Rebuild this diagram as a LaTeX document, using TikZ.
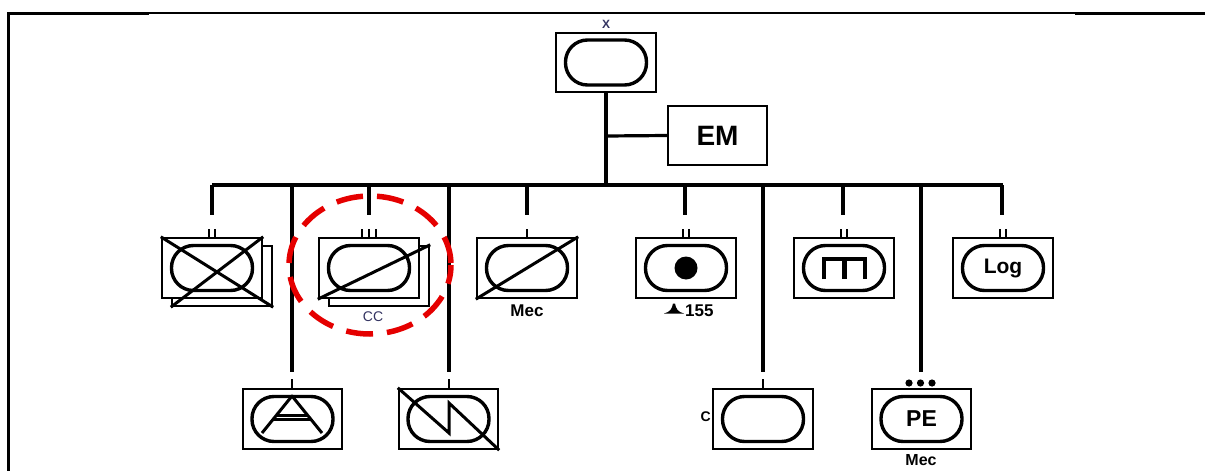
\documentclass[tikz,border=0pt]{standalone}
\usepackage{fontspec}
\setmainfont{Liberation Sans}
\begin{document}
\begin{tikzpicture}[x=1pt,y=-1pt,
  ubox/.style={draw,line width=2.4pt,fill=white,minimum width=100pt,minimum height=60pt,inner sep=0pt},
  oval/.style={draw,line width=3.4pt,rounded corners=22pt,minimum width=81pt,minimum height=45pt,inner sep=0pt},
  conn/.style={line width=3.2pt},
  ech/.style={line width=2.6pt},
  sym/.style={line width=3pt},
  lbl/.style={font=\bfseries\fontsize{17}{17}\selectfont,inner sep=0pt},
  grey/.style={text=black!70!blue!60!gray}]
\useasboundingbox (0,0) rectangle (1205,471);
% frame
\draw[line width=3pt] (8,471) -- (8,13) -- (149,13);
\draw[line width=1.3pt] (149,13) -- (1075,13);
\draw[line width=3pt] (1075,13) -- (1205,13);

% top unit and EM
\node[ubox,minimum height=59pt] (xu) at (606,62.5) {};
\node[oval] (xo) at (xu) {};
\node[grey,font=\bfseries\fontsize{12}{12}\selectfont,inner sep=0pt] (xl) at (606,24) {X};
\node[ubox,minimum width=99pt,minimum height=59pt,font=\bfseries\fontsize{28}{28}\selectfont] (em) at (717.5,135.5) {EM};

% top row units
\node[ubox] (u1b) at (222,276) {};
\node[ubox] (u1) at (212,268) {};
\node[ubox] (u2b) at (379,276) {};
\node[ubox] (u2) at (369,268) {};
\node[ubox] (u3) at (527,268) {};
\node[ubox] (u4) at (686,268) {};
\node[ubox] (u5) at (844,268) {};
\node[ubox] (u6) at (1003,268) {};
% bottom row units
\node[ubox,minimum width=99pt] (b1) at (292.5,419) {};
\node[ubox,minimum width=99pt] (b2) at (448.5,419) {};
\node[ubox] (b3) at (763,419) {};
\node[ubox,minimum width=99pt] (b4) at (921.5,419) {};

% ovals
\node[oval] (o1) at (u1) {};
\node[oval] (o2) at (u2) {};
\node[oval] (o3) at (u3) {};
\node[oval] (o4) at (u4) {};
\node[oval] (o5) at (u5) {};
\node[oval,font=\bfseries\fontsize{21}{21}\selectfont] (o6) at (u6) {Log};
\node[oval] (p1) at (b1) {};
\node[oval] (p2) at (b2) {};
\node[oval] (p3) at (b3) {};
\node[oval,font=\bfseries\fontsize{23}{23}\selectfont] (p4) at (b4) {PE};

% symbols
\draw[sym] (u1.north west) -- (u1b.south east);
\draw[sym] (u1.north east) -- (u1b.south west);
\draw[sym] (u2.south west) -- (u2b.north east);
\draw[sym] (u3.south west) -- (u3.north east);
\fill (u4) circle (11.5);
\draw[line width=4.2pt] (824,279) -- (824,259) -- (865,259) -- (865,279);
\draw[line width=4.2pt] (844.5,259) -- (844.5,279);
\draw[sym,line join=round] (262,433) -- (292,396) -- (322,433);
\draw[line width=2.2pt] (277,415.5) -- (307,415.5) (274,419.5) -- (310,419.5);
\draw[sym] (b2.north west) -- (449,433) -- (449,403) -- (b2.south east);

% connectors
\coordinate (trunk) at (606,185);
\coordinate (emj) at (606,136);
\draw[conn] (xu.south) -- (trunk);
\draw[conn] (emj) -- (em.west);
\draw[conn] (u1.north |- trunk) -- (u6.north |- trunk);
\foreach \n/\x in {u1/212,u2/369,u3/527,u4/685,u5/843,u6/1002}{
  \coordinate (e\n) at (\x,215);
  \draw[conn] (\x,185) -- (e\n);
}
\foreach \n/\x in {b1/292,b2/449,b3/763,b4/921}{
  \coordinate (e\n) at (\x,372);
  \draw[conn] (\x,185) -- (e\n);
}
% echelon marks
\draw[ech] (209,229) -- (209,238) (215,229) -- (215,238);
\draw[ech] (362,229) -- (362,238) (369,229) -- (369,238) (376,229) -- (376,238);
\draw[ech] (527,229) -- (527,238);
\draw[ech] (683,229) -- (683,238) (689,229) -- (689,238);
\draw[ech] (841,229) -- (841,238) (847,229) -- (847,238);
\draw[ech] (1000,229) -- (1000,238) (1006,229) -- (1006,238);
\draw[ech] (292,379) -- (292,389);
\draw[ech] (449,379) -- (449,389);
\draw[ech] (763,379) -- (763,389);
\fill (909,383) circle (3.6) (920.5,383) circle (3.6) (932,383) circle (3.6);

% labels
\node[grey,font=\fontsize{14}{14}\selectfont,inner sep=0pt] (ccl) at (373,317) {CC};
\node[lbl] (mec1) at (527,311) {Mec};
\fill (664,313.5) .. controls (670,312) and (672,309) .. (673,303.5) -- (675,303.5) .. controls (676,309) and (678,312) .. (684,313.5) -- cycle;
\node[lbl,anchor=west] (l155) at (685,311) {155};
\node[font=\bfseries\fontsize{14}{14}\selectfont,inner sep=0pt,anchor=east] (cl) at (711,417) {C};
\node[lbl,font=\bfseries\fontsize{16}{16}\selectfont] (mec2) at (921,460) {Mec};

% red dashed ellipse
\draw[red!90!black,line width=5.5pt,dash pattern=on 27pt off 14pt,dash phase=8pt] (370,265) ellipse (81 and 69);
\end{tikzpicture}
\end{document}
